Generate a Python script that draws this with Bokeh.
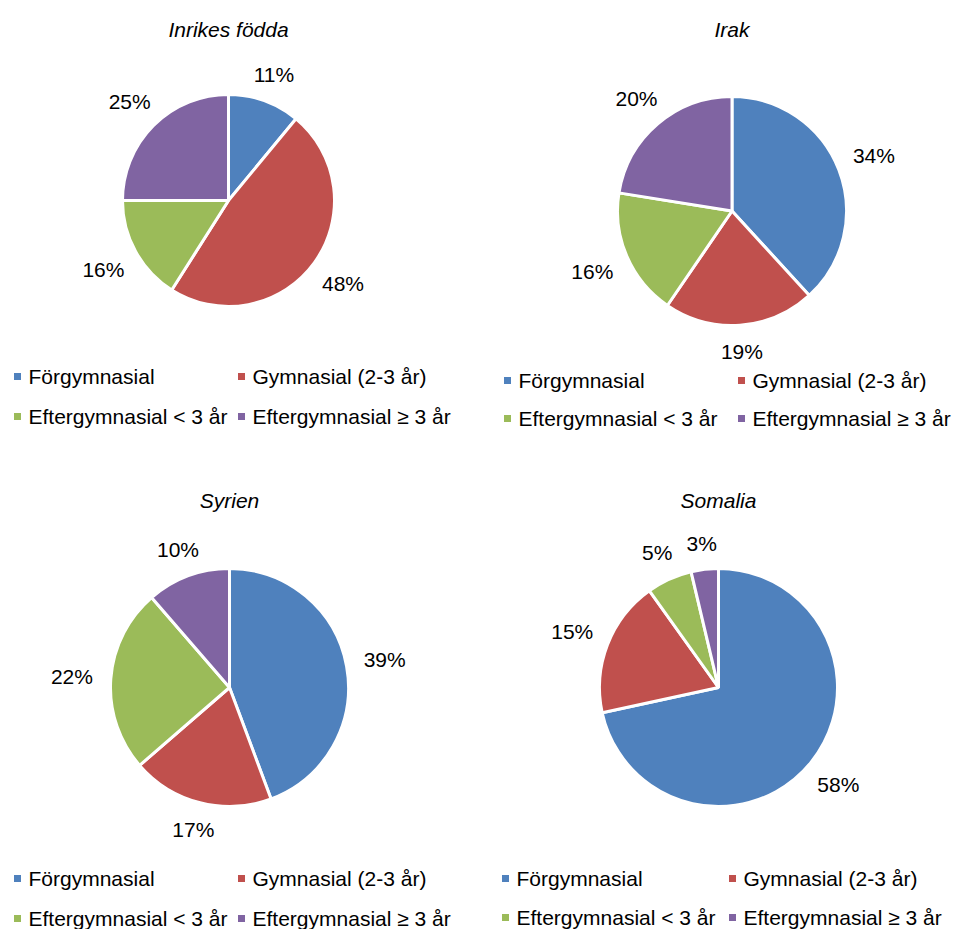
import math
from bokeh.plotting import figure
from bokeh.models import Range1d, ColumnDataSource
from bokeh.core.properties import value
from bokeh.embed import file_html
from bokeh.resources import INLINE

# ---------------- data ----------------
categories = ["Förgymnasial", "Gymnasial (2-3 år)",
              "Eftergymnasial < 3 år", "Eftergymnasial ≥ 3 år"]
colors = ["#4F81BD", "#C0504D", "#9BBB59", "#8064A2"]
countries = ["Inrikes födda", "Irak", "Syrien", "Somalia"]
inrikes = [11, 48, 16, 25]
irak = [34, 19, 16, 20]
syrien = [39, 17, 22, 10]
somalia = [58, 15, 5, 3]
series = [inrikes, irak, syrien, somalia]

# ---------------- layout (pixels from top-left) ----------------
W, H = 955, 929
panels = [
    dict(cx=228, cy=200, r=106, ty=29, lx=(17, 241), ly=(376, 416)),
    dict(cx=731.5, cy=210.5, r=114.5, ty=29, lx=(507, 741), ly=(380, 418)),
    dict(cx=229, cy=687, r=119, ty=500, lx=(17, 241), ly=(878, 918)),
    dict(cx=718, cy=687, r=119, ty=500, lx=(505, 732), ly=(878, 917)),
]
FONT = "Liberation Sans"
FS = "21px"

p = figure(width=W, height=H, output_backend="svg", toolbar_location=None,
           x_range=Range1d(0, W), y_range=Range1d(0, H),
           min_border=0, outline_line_color=None)
p.axis.visible = False
p.grid.visible = False
p.background_fill_color = "white"
p.border_fill_color = "white"


def Y(py):
    return H - py


for name, vals, lay in zip(countries, series, panels):
    total = float(sum(vals))
    cx, cy, r = lay["cx"], Y(lay["cy"]), lay["r"]
    starts, ends, lxs, lys, labs = [], [], [], [], []
    cum = 0.0
    for v in vals:
        a0 = cum / total * 2 * math.pi
        a1 = (cum + v) / total * 2 * math.pi
        cum += v
        # clockwise from 12 o'clock
        starts.append(math.pi / 2 - a1)
        ends.append(math.pi / 2 - a0)
        mid = (a0 + a1) / 2
        s, c = math.sin(mid), math.cos(mid)
        d = r + 16 + math.sqrt((23 * s) ** 2 + (10 * c) ** 2)
        lxs.append(cx + d * s)
        lys.append(cy + d * c)
        labs.append(f"{v}%")
    src = ColumnDataSource(dict(start=starts, end=ends, color=colors))
    p.wedge(x=cx, y=cy, radius=r, start_angle="start", end_angle="end",
            direction="anticlock", fill_color="color", line_color="white",
            line_width=3, source=src)
    p.text(x=lxs, y=lys, text=labs, text_font=value(FONT),
           text_font_size=FS, text_color="black",
           text_align="center", text_baseline="middle")
    # title
    p.text(x=[lay["cx"]], y=[Y(lay["ty"])], text=[name], text_font=value(FONT),
           text_font_size=FS, text_font_style="italic", text_color="black",
           text_align="center", text_baseline="middle")
    # legend
    mx = [lay["lx"][j % 2] for j in range(4)]
    my = [Y(lay["ly"][j // 2]) for j in range(4)]
    p.scatter(x=mx, y=my, marker="square", size=7, fill_color=colors,
              line_color=None)
    p.text(x=[v + 11 for v in mx], y=my, text=categories, text_font=value(FONT),
           text_font_size=FS, text_color="black",
           text_align="left", text_baseline="middle")

open("out.html", "w").write(file_html(p, INLINE))
